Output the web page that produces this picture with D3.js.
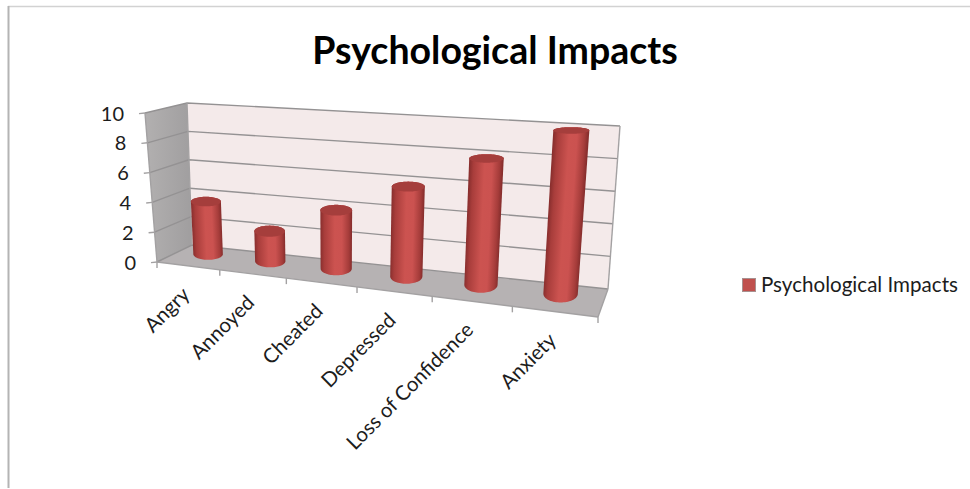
<!DOCTYPE html>
<html>
<head>
<meta charset="utf-8">
<style>
html, body { margin: 0; padding: 0; background: #fff; }
svg { display: block; }
text { font-family: Lato, "Noto Sans", sans-serif; fill: #1c1c1c; }
</style>
<script src="https://cdn.jsdelivr.net/npm/d3@7"></script>
</head>
<body>
<script>
var categories = ['Angry', 'Annoyed', 'Cheated', 'Depressed', 'Loss of Confidence', 'Anxiety'];
var impactValues = [3.6, 2, 3.8, 5.7, 7.8, 9.8];
var valueTicks = [0, 2, 4, 6, 8, 10];
var seriesName = 'Psychological Impacts';

var width = 970, height = 489;

// Screen corners of the 3D box: floor and ceiling planes
var floorQuad = { backLeft: [192, 245], backRight: [608, 289], frontLeft: [157, 262], frontRight: [598, 317] };
var ceilQuad = { backLeft: [187, 103], backRight: [620, 126], frontLeft: [145, 113], frontRight: [613, 136] };

var perspective = 0.83, // below 1 the bands widen towards the right
    barShift = -0.004,  // bars sit a little left of the band centre
    barDepth = 0.35,    // where the bars stand, 0 = back wall, 1 = front edge
    barRadiusU = 0.225, // fraction of a band
    barRadiusD = 0.32;

var xBand = d3.scaleBand().domain(categories).range([0, 1]);
var yLevel = d3.scaleLinear().domain([0, 10]).range([0, 1]);

function warp(u) {
    return u * perspective / (1 - (1 - perspective) * u);
}

function mix(a, b, t) {
    return [a[0] + (b[0] - a[0]) * t, a[1] + (b[1] - a[1]) * t];
}

function onQuad(q, u, d) {
    var back = mix(q.backLeft, q.backRight, u),
        front = mix(q.frontLeft, q.frontRight, u);
    return mix(back, front, d);
}

// u across the categories, d back to front, value on the y scale
function project(u, d, value) {
    var w = warp(u);
    return mix(onQuad(floorQuad, w, d), onQuad(ceilQuad, w, d), yLevel(value));
}

function polygon(points) {
    return d3.line().curve(d3.curveLinearClosed)(points);
}

// Level ellipse of a cylinder at the given value, sized from the projected radii.
// Index 0 is the right extreme, 36 the left, 1..35 run along the near side.
function ring(i, value) {
    var center = xBand(categories[i]) + xBand.bandwidth() / 2 + barShift,
        ru = xBand.bandwidth() * barRadiusU,
        c = project(center, barDepth, value),
        local = (project(center + ru, barDepth, value)[0] - project(center - ru, barDepth, value)[0]) / 2,
        average = (project(1, barDepth, value)[0] - project(0, barDepth, value)[0]) * ru,
        rx = (local + average) / 2, // bar width grows slower than the band does
        ry = (project(center, barDepth + barRadiusD, value)[1] - project(center, barDepth - barRadiusD, value)[1]) / 2;
    return d3.range(0, 72).map(function(k) {
        var angle = k / 72 * Math.PI * 2;
        return [c[0] + Math.cos(angle) * rx, c[1] + Math.sin(angle) * ry];
    });
}

var svg = d3.select('body').append('svg')
    .attr('width', width)
    .attr('height', height);

var defs = svg.append('defs');

svg.append('rect').attr('width', width).attr('height', height).attr('fill', '#fff');

// Chart area frame, only top and left are in view
svg.append('path')
    .attr('d', 'M8,6.5H970')
    .attr('stroke', '#d2d2d2')
    .attr('stroke-width', 1.5);
svg.append('path')
    .attr('d', 'M8.5,6V488')
    .attr('stroke', '#b4b4b4')
    .attr('stroke-width', 2);

svg.append('text')
    .attr('x', 495)
    .attr('y', 64)
    .attr('text-anchor', 'middle')
    .attr('font-size', 37.5)
    .attr('font-weight', 700)
    .style('fill', '#000')
    .text(seriesName);

// Walls and floor
var sideGrad = defs.append('linearGradient')
    .attr('id', 'sideWall')
    .attr('x1', 0).attr('x2', 1).attr('y1', 0).attr('y2', 0);
sideGrad.append('stop').attr('offset', '0%').attr('stop-color', '#b2b0b0');
sideGrad.append('stop').attr('offset', '100%').attr('stop-color', '#a09e9f');

svg.append('path')
    .attr('d', polygon([project(0, 1, 0), project(0, 0, 0), project(0, 0, 10), project(0, 1, 10)]))
    .attr('fill', 'url(#sideWall)');

svg.append('path')
    .attr('d', polygon([project(0, 0, 0), project(1, 0, 0), project(1, 0, 10), project(0, 0, 10)]))
    .attr('fill', '#f4eaea');

svg.append('path')
    .attr('d', polygon([project(0, 1, 0), project(1, 1, 0), project(1, 0, 0), project(0, 0, 0)]))
    .attr('fill', '#b6b2b3');

// Gridlines wrap from the axis over the side wall and along the back wall
var gridLine = d3.line();
svg.append('g').selectAll('path')
    .data(valueTicks)
  .enter().append('path')
    .attr('d', function(v) {
        return gridLine([project(0, 1, v), project(0, 0, v), project(1, 0, v)]);
    })
    .attr('fill', 'none')
    .attr('stroke', '#949293')
    .attr('stroke-width', 1.4);

// Box edges and tick marks
var edges = [
    [project(0, 1, 0), project(0, 1, 10)],
    [project(0, 1, 0), project(1, 1, 0)],
    [project(1, 1, 0), project(1, 0, 0)],
    [project(1, 0, 0), project(1, 0, 10)],
    [project(0, 0, 0), project(0, 0, 10)]
];
valueTicks.forEach(function(v) {
    var p = project(0, 1, v);
    edges.push([p, [p[0] - 6, p[1] + 0.6]]);
});
d3.range(0, categories.length + 1).forEach(function(i) {
    var p = project(i / categories.length, 1, 0);
    edges.push([p, [p[0], p[1] + 6]]);
});
svg.append('g').selectAll('path')
    .data(edges)
  .enter().append('path')
    .attr('d', function(d) { return gridLine(d); })
    .attr('fill', 'none')
    .attr('stroke', '#a3a1a2')
    .attr('stroke-width', 1.4);

// Cylinders
var barData = categories.map(function(name, i) {
    return { name: name, i: i, base: ring(i, 0), top: ring(i, impactValues[i]) };
});

function bodyPath(b) {
    // Near half of the base ring, then the far half of the top ring
    return polygon(b.base.slice(0, 37).concat(b.top.slice(36), [b.top[0]]));
}

barData.forEach(function(b) {
    var br = b.base[0], bl = b.base[36],
        tr = b.top[0], tl = b.top[36],
        ax = (tl[0] + tr[0]) / 2 - (bl[0] + br[0]) / 2,
        ay = (tl[1] + tr[1]) / 2 - (bl[1] + br[1]) / 2,
        len = Math.sqrt(ax * ax + ay * ay),
        nx = -ay / len, ny = ax / len,
        span = (br[0] - bl[0]) * nx + (br[1] - bl[1]) * ny;

    var grad = defs.append('linearGradient')
        .attr('id', 'barFill' + b.i)
        .attr('gradientUnits', 'userSpaceOnUse')
        .attr('x1', bl[0]).attr('y1', bl[1])
        .attr('x2', bl[0] + nx * span).attr('y2', bl[1] + ny * span);
    [[0, '#8a2f2e'], [0.12, '#a83d3b'], [0.45, '#cc5350'], [0.68, '#cb5250'], [0.9, '#a53c3a'], [1, '#872e2d']]
        .forEach(function(s) {
            grad.append('stop').attr('offset', s[0]).attr('stop-color', s[1]);
        });
});

var bars = svg.append('g').selectAll('g')
    .data(barData)
  .enter().append('g');

bars.append('path')
    .attr('d', bodyPath)
    .attr('fill', function(d) { return 'url(#barFill' + d.i + ')'; });

bars.append('path')
    .attr('d', function(d) { return polygon(d.top); })
    .attr('fill', '#a53e3c');

// Value axis labels
svg.append('g').selectAll('text')
    .data(valueTicks)
  .enter().append('text')
    .attr('x', function(v) { return project(0, 1, v)[0] - 21; })
    .attr('y', function(v) { return project(0, 1, v)[1] + 7.5; })
    .attr('text-anchor', 'end')
    .attr('font-size', 20)
    .text(function(v) { return v; });

// Category labels, rotated and ending under the middle of each band
svg.append('g').selectAll('text')
    .data(categories)
  .enter().append('text')
    .attr('transform', function(name) {
        var p = project(xBand(name) + xBand.bandwidth() / 2, 1, 0);
        return 'translate(' + (p[0] + 3) + ',' + (p[1] + 30) + ') rotate(-45)';
    })
    .attr('text-anchor', 'end')
    .attr('font-size', 20.4)
    .text(function(name) { return name; });

// Legend
svg.append('rect')
    .attr('x', 742.5).attr('y', 278.5)
    .attr('width', 13).attr('height', 13)
    .attr('fill', '#c0504d')
    .attr('stroke', '#a8908f')
    .attr('stroke-width', 1);

svg.append('text')
    .attr('x', 761)
    .attr('y', 292)
    .attr('font-size', 20.6)
    .text(seriesName);
</script>
</body>
</html>
